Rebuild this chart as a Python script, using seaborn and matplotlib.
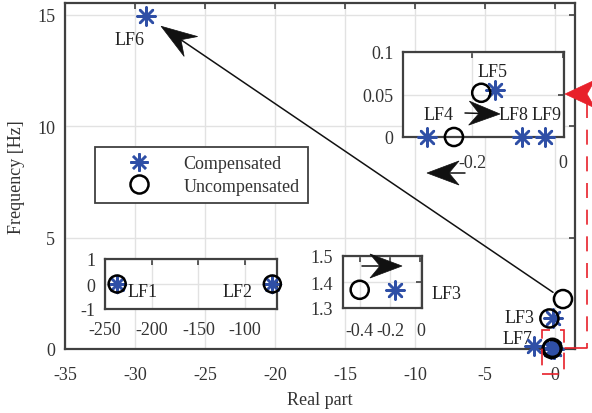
import numpy as np
import pandas as pd
import matplotlib
matplotlib.use("Agg")
import matplotlib.pyplot as plt
import seaborn as sns
from matplotlib.patches import Polygon, Rectangle
from matplotlib.lines import Line2D

# ---------------- data ----------------
comp_names = ["LF1", "LF2", "LF3", "LF4", "LF5", "LF6", "LF7", "LF8", "LF9"]
comp_re = [-237.0, -71.0, -0.17, -0.30, -0.15, -29.2, -1.5, -0.09, -0.04]
comp_im = [0.0, 0.0, 1.37, 0.0, 0.055, 14.93, 0.12, 0.0, 0.0]

unc_names = ["LF1", "LF2", "LF3", "LF4", "LF5", "LF6"]
unc_re = [-237.0, -71.0, -0.40, -0.24, -0.18, 0.57]
unc_im = [0.0, 0.0, 1.37, 0.0, 0.052, 2.24]

main_xticks = [-35, -30, -25, -20, -15, -10, -5, 0]
main_yticks = [0, 5, 10, 15]
insA_xticks = [-0.2, 0.0]
insA_xlabels = ["-0.2", "0"]
insA_yticks = [0.0, 0.05, 0.1]
insA_ylabels = ["0", "0.05", "0.1"]
insB_xticks = [-250, -200, -150, -100]
insB_xlabels = ["-250", "-200", "-150", "-100"]
insB_yticks = [-1, 0, 1]
insB_ylabels = ["-1", "0", "1"]
insC_xticks = [-0.4, -0.2, 0.0]
insC_xlabels = ["-0.4", "-0.2", "0"]
insC_yticks = [1.3, 1.4, 1.5]
insC_ylabels = ["1.3", "1.4", "1.5"]

comp = pd.DataFrame({"re": comp_re, "im": comp_im, "name": comp_names})
unc = pd.DataFrame({"re": unc_re, "im": unc_im, "name": unc_names})

# ---------------- style ----------------
sns.set_style("white")
plt.rcParams["font.family"] = ["Liberation Serif", "DejaVu Serif"]
plt.rcParams["axes.unicode_minus"] = False
TXT = "#333333"
SPINE = "#404040"
BLUE = "#2F4FA6"
FS = 13

W, H = 592, 414
fig = plt.figure(figsize=(W / 100, H / 100), dpi=100)


def fr(px, py):
    return px / W, 1 - py / H


def axes_px(x0, y0, x1, y1):
    return fig.add_axes([x0 / W, 1 - y1 / H, (x1 - x0) / W, (y1 - y0) / H])


STAR = (8, 2, 0)


def draw_points(ax, xlim, ylim, s=170, lw=1.8, unclip=False):
    def sub(df):
        m = ((df.re >= xlim[0]) & (df.re <= xlim[1]) &
             (df.im >= ylim[0]) & (df.im <= ylim[1]))
        return df[m]
    sns.scatterplot(data=sub(comp), x="re", y="im", ax=ax, marker=STAR, s=s,
                    color=BLUE, linewidth=lw, zorder=4, legend=False)
    sns.scatterplot(data=sub(unc), x="re", y="im", ax=ax, marker="o", s=s,
                    facecolor="none", edgecolor="black", linewidth=lw,
                    zorder=5, legend=False)
    ax.set_xlim(*xlim)
    ax.set_ylim(*ylim)
    if unclip:
        for sc in ax.collections:
            sc.set_clip_on(False)


def style_axes(ax, xpad, ypad=6):
    for sp in ax.spines.values():
        sp.set_color(SPINE)
        sp.set_linewidth(1.6)
        sp.set_visible(True)
    ax.tick_params(direction="in", length=4, width=1.2, color=SPINE,
                   top=True, right=True, labelsize=FS, labelcolor=TXT)
    ax.tick_params(axis="x", pad=xpad)
    ax.tick_params(axis="y", pad=ypad)
    ax.grid(True, color="#e2e2e2", linewidth=1.0)
    ax.set_axisbelow(True)
    ax.set_xlabel("")
    ax.set_ylabel("")


# ---------------- main axes ----------------
ax = axes_px(65, 4, 575, 350)
draw_points(ax, (-35, 1.43), (0, 15.52), unclip=True)
ax.set_xticks(main_xticks)
ax.set_xticklabels([str(v) for v in main_xticks])
ax.set_yticks(main_yticks)
ax.set_yticklabels([str(v) for v in main_yticks])
style_axes(ax, xpad=12, ypad=7)
ax.set_xlabel("Real part", fontsize=FS, color=TXT, labelpad=6)
ax.set_ylabel("Frequency [Hz]", fontsize=FS, color=TXT, labelpad=9)

ax.text(-30.4, 13.9, "LF6", fontsize=FS, color="#222222", ha="center", va="center")
ax.text(-2.5, 1.43, "LF3", fontsize=FS, color="#222222", ha="center", va="center")
ax.text(-2.7, 0.45, "LF7", fontsize=FS, color="#222222", ha="center", va="center")

# legend
hs = [Line2D([], [], ls="", marker=STAR, ms=13, mec=BLUE, mew=1.8),
      Line2D([], [], ls="", marker="o", ms=13, mfc="none", mec="black", mew=1.8)]
leg = ax.legend(hs, ["Compensated", "Uncompensated"], loc="upper left",
                bbox_to_anchor=fr(95, 148), bbox_transform=fig.transFigure,
                frameon=True, fancybox=False, edgecolor=SPINE, framealpha=1,
                fontsize=FS, borderpad=0.45, handlelength=4.0,
                handletextpad=0.45, labelspacing=0.3, borderaxespad=0)
leg.get_frame().set_linewidth(1.3)
for t in leg.get_texts():
    t.set_color(TXT)


# ---------------- arrow helper (pixel coords) ----------------
def arrow_head(tip, tail, L, Wd, notch, color, shaft=True, lw=1.2, ls="-"):
    tip = np.array(tip, float)
    tail = np.array(tail, float)
    d = tip - tail
    d /= np.hypot(*d)
    n = np.array([-d[1], d[0]])
    pts = [tip, tip - L * d + Wd * n, tip - (L - notch) * d, tip - L * d - Wd * n]
    pts = [fr(*p) for p in pts]
    fig.patches.append(Polygon(pts, closed=True, transform=fig.transFigure,
                               facecolor=color, edgecolor=color, lw=0.5,
                               zorder=10))
    if shaft:
        fig.lines.append(Line2D([fr(*tail)[0], fr(*(tip - L * d * 0.5))[0]],
                                [fr(*tail)[1], fr(*(tip - L * d * 0.5))[1]],
                                transform=fig.transFigure, color=color,
                                lw=lw, ls=ls, zorder=10))


def data_to_px(a, x, y):
    dx, dy = a.transData.transform((x, y))
    return dx, H - dy


# main long arrow: from the unstable uncompensated mode to LF6
p_tail = np.array(data_to_px(ax, unc_re[5], unc_im[5]))
p_tip = np.array(data_to_px(ax, comp_re[5], comp_im[5]))
dv = (p_tip - p_tail) / np.hypot(*(p_tip - p_tail))
arrow_head(p_tip - 18 * dv, p_tail + 12 * dv, 36, 12, 12, "#111111", lw=1.1)

# small black arrows
arrow_head((500, 115), (465, 114), 31, 12, 10, "#111111", lw=1.1)
arrow_head((427, 174), (465, 174), 32, 12, 10, "#111111", lw=1.1)
arrow_head((402, 267), (362, 267), 32, 12, 10, "#111111", lw=1.1)

# red zoom indicator
RED = "#E8202A"
arrow_head((565, 95), (600, 95), 30, 14, 8, RED, shaft=False)
x0, y0 = fr(587, 104)
x1, y1 = fr(587, 349)
fig.lines.append(Line2D([x0, x1], [y0, y1], transform=fig.transFigure,
                        color=RED, lw=1.2, ls=(0, (9, 7)), zorder=9))
xa, ya = fr(565, 349)
fig.lines.append(Line2D([xa, x1], [ya, y1], transform=fig.transFigure,
                        color=RED, lw=1.2, zorder=9))
rx, ry = fr(542, 375)
fig.patches.append(Rectangle((rx, ry), 22 / W, 44 / H, transform=fig.transFigure,
                             fill=False, edgecolor=RED, lw=1.2,
                             ls=(0, (10, 6)), zorder=9))

# ---------------- inset A (near origin) ----------------
axA = axes_px(403, 53, 564, 138)
draw_points(axA, (-0.352, 0.002), (0, 0.1), unclip=True)
axA.set_xticks(insA_xticks)
axA.set_xticklabels(insA_xlabels)
axA.set_yticks(insA_yticks)
axA.set_yticklabels(insA_ylabels)
style_axes(axA, xpad=12, ypad=7)
axA.text(-0.156, 0.0776, "LF5", fontsize=FS, color="#222222", ha="center", va="center")
axA.text(-0.275, 0.027, "LF4", fontsize=FS, color="#222222", ha="center", va="center")
axA.text(-0.11, 0.027, "LF8", fontsize=FS, color="#222222", ha="center", va="center")
axA.text(-0.037, 0.027, "LF9", fontsize=FS, color="#222222", ha="center", va="center")

# ---------------- inset B (LF1, LF2) ----------------
axB = axes_px(105, 260, 277, 310)
draw_points(axB, (-250, -66), (-1, 1), s=150, unclip=True)
axB.set_xticks(insB_xticks)
axB.set_xticklabels(insB_xlabels)
axB.set_yticks(insB_yticks)
axB.set_yticklabels(insB_ylabels)
style_axes(axB, xpad=9, ypad=7)
axB.text(-226, -0.3, "LF1", fontsize=FS, color="#222222", ha="left", va="center")
axB.text(-108, -0.3, "LF2", fontsize=FS, color="#222222", ha="center", va="center")

# ---------------- inset C (LF3) ----------------
axC = axes_px(343, 257, 422, 309)
draw_points(axC, (-0.51, 0.01), (1.3, 1.5))
axC.set_xticks(insC_xticks)
axC.set_xticklabels(insC_xlabels)
axC.set_yticks(insC_yticks)
axC.set_yticklabels(insC_ylabels)
style_axes(axC, xpad=10, ypad=7)
axC.text(0.17, 1.354, "LF3", fontsize=FS, color="#222222", ha="center",
         va="center", clip_on=False)

fig.savefig("out.png", dpi=100)
